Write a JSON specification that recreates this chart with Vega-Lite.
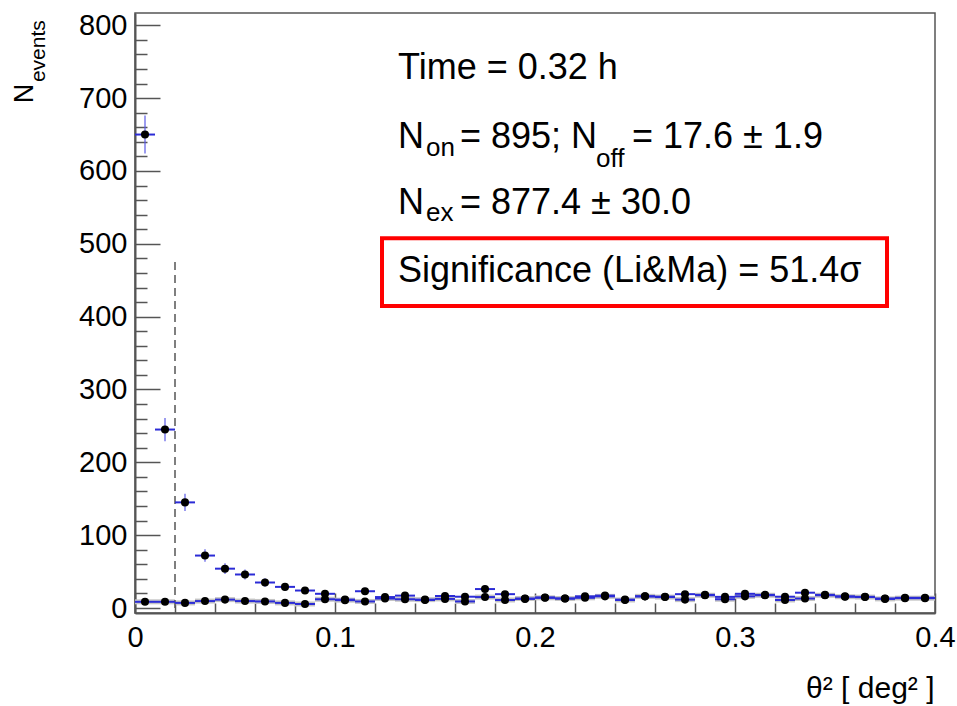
{
  "$schema": "https://vega.github.io/schema/vega-lite/v6.json",
  "width": 800,
  "height": 600,
  "autosize": {"type": "none"},
  "padding": {"left": 135, "top": 13, "right": 22, "bottom": 93},
  "background": "white",
  "config": {
    "view": {"stroke": "#555", "strokeWidth": 1.5},
    "font": "Liberation Sans"
  },
  "datasets": {
    "bins": [
      {"center": 0.005, "lo": 0.00, "hi": 0.01, "on": 650, "on_lo": 624, "on_hi": 676, "off": 8.5},
      {"center": 0.015, "lo": 0.01, "hi": 0.02, "on": 245, "on_lo": 229, "on_hi": 261, "off": 8.5},
      {"center": 0.025, "lo": 0.02, "hi": 0.03, "on": 145, "on_lo": 133, "on_hi": 157, "off": 7},
      {"center": 0.035, "lo": 0.03, "hi": 0.04, "on": 72, "on_lo": 63.5, "on_hi": 80.5, "off": 9.5},
      {"center": 0.045, "lo": 0.04, "hi": 0.05, "on": 54, "on_lo": 46.7, "on_hi": 61.3, "off": 11.5},
      {"center": 0.055, "lo": 0.05, "hi": 0.06, "on": 46, "on_lo": 39.2, "on_hi": 52.8, "off": 9.5},
      {"center": 0.065, "lo": 0.06, "hi": 0.07, "on": 35, "on_lo": 29.1, "on_hi": 40.9, "off": 9},
      {"center": 0.075, "lo": 0.07, "hi": 0.08, "on": 29, "on_lo": 23.6, "on_hi": 34.4, "off": 7},
      {"center": 0.085, "lo": 0.08, "hi": 0.09, "on": 24, "on_lo": 19.1, "on_hi": 28.9, "off": 5.5},
      {"center": 0.095, "lo": 0.09, "hi": 0.10, "on": 19.5, "on_lo": 15.1, "on_hi": 23.9, "off": 12},
      {"center": 0.105, "lo": 0.10, "hi": 0.11, "on": 11.5, "on_lo": 8.1, "on_hi": 14.9, "off": 10.8},
      {"center": 0.115, "lo": 0.11, "hi": 0.12, "on": 23, "on_lo": 18.2, "on_hi": 27.8, "off": 9},
      {"center": 0.125, "lo": 0.12, "hi": 0.13, "on": 15, "on_lo": 11.1, "on_hi": 18.9, "off": 13},
      {"center": 0.135, "lo": 0.13, "hi": 0.14, "on": 17, "on_lo": 12.9, "on_hi": 21.1, "off": 12},
      {"center": 0.145, "lo": 0.14, "hi": 0.15, "on": 11, "on_lo": 7.7, "on_hi": 14.3, "off": 11.5},
      {"center": 0.155, "lo": 0.15, "hi": 0.16, "on": 16.5, "on_lo": 12.4, "on_hi": 20.6, "off": 12.5},
      {"center": 0.165, "lo": 0.16, "hi": 0.17, "on": 15.5, "on_lo": 11.6, "on_hi": 19.4, "off": 9},
      {"center": 0.175, "lo": 0.17, "hi": 0.18, "on": 26, "on_lo": 20.9, "on_hi": 31.1, "off": 15},
      {"center": 0.185, "lo": 0.18, "hi": 0.19, "on": 19, "on_lo": 14.6, "on_hi": 23.4, "off": 11},
      {"center": 0.195, "lo": 0.19, "hi": 0.20, "on": 12.5, "on_lo": 9, "on_hi": 16, "off": 13},
      {"center": 0.205, "lo": 0.20, "hi": 0.21, "on": 14.5, "on_lo": 10.7, "on_hi": 18.3, "off": 14},
      {"center": 0.215, "lo": 0.21, "hi": 0.22, "on": 13, "on_lo": 9.4, "on_hi": 16.6, "off": 13},
      {"center": 0.225, "lo": 0.22, "hi": 0.23, "on": 16, "on_lo": 12, "on_hi": 20, "off": 14},
      {"center": 0.235, "lo": 0.23, "hi": 0.24, "on": 17, "on_lo": 12.9, "on_hi": 21.1, "off": 16},
      {"center": 0.245, "lo": 0.24, "hi": 0.25, "on": 11.5, "on_lo": 8.1, "on_hi": 14.9, "off": 11},
      {"center": 0.255, "lo": 0.25, "hi": 0.26, "on": 16, "on_lo": 12, "on_hi": 20, "off": 16},
      {"center": 0.265, "lo": 0.26, "hi": 0.27, "on": 15.5, "on_lo": 11.6, "on_hi": 19.4, "off": 15},
      {"center": 0.275, "lo": 0.27, "hi": 0.28, "on": 19, "on_lo": 14.6, "on_hi": 23.4, "off": 11.5},
      {"center": 0.285, "lo": 0.28, "hi": 0.29, "on": 18, "on_lo": 13.8, "on_hi": 22.2, "off": 17.5},
      {"center": 0.295, "lo": 0.29, "hi": 0.30, "on": 15.3, "on_lo": 11.4, "on_hi": 19.2, "off": 12},
      {"center": 0.305, "lo": 0.30, "hi": 0.31, "on": 19.5, "on_lo": 15.1, "on_hi": 23.9, "off": 16},
      {"center": 0.315, "lo": 0.31, "hi": 0.32, "on": 18, "on_lo": 13.8, "on_hi": 22.2, "off": 17.5},
      {"center": 0.325, "lo": 0.32, "hi": 0.33, "on": 15.5, "on_lo": 11.6, "on_hi": 19.4, "off": 11},
      {"center": 0.335, "lo": 0.33, "hi": 0.34, "on": 21, "on_lo": 16.4, "on_hi": 25.6, "off": 13},
      {"center": 0.345, "lo": 0.34, "hi": 0.35, "on": 18, "on_lo": 13.8, "on_hi": 22.2, "off": 17.5},
      {"center": 0.355, "lo": 0.35, "hi": 0.36, "on": 16, "on_lo": 12, "on_hi": 20, "off": 15.5},
      {"center": 0.365, "lo": 0.36, "hi": 0.37, "on": 15.3, "on_lo": 11.4, "on_hi": 19.2, "off": 15},
      {"center": 0.375, "lo": 0.37, "hi": 0.38, "on": 13, "on_lo": 9.4, "on_hi": 16.6, "off": 12.5},
      {"center": 0.385, "lo": 0.38, "hi": 0.39, "on": 14, "on_lo": 10.3, "on_hi": 17.7, "off": 13.5},
      {"center": 0.395, "lo": 0.39, "hi": 0.40, "on": 14, "on_lo": 10.3, "on_hi": 17.7, "off": 13.5}
    ],
    "cut": [{"theta2": 0.02, "bottom": 0, "top": 480}],
    "notes": [
      {"text": "Time = 0.32 h", "x": 0.1315, "y": 726},
      {"text": "N", "x": 0.1315, "y": 632},
      {"text": "= 895; N", "x": 0.1625, "y": 632},
      {"text": "= 17.6 ± 1.9", "x": 0.2485, "y": 632},
      {"text": "N", "x": 0.1315, "y": 541},
      {"text": "= 877.4 ± 30.0", "x": 0.1625, "y": 541},
      {"text": "Significance (Li&Ma) = 51.4σ", "x": 0.1315, "y": 447}
    ],
    "subs": [
      {"text": "on", "x": 0.1455, "y": 621},
      {"text": "off", "x": 0.2305, "y": 605},
      {"text": "ex", "x": 0.1455, "y": 531}
    ],
    "box": [{"x1": 0.1235, "x2": 0.376, "y1": 414.5, "y2": 507.6}],
    "ytitle_main": [{"text": "N", "x": -0.051, "y": 693}],
    "ytitle_sub": [{"text": "events", "x": -0.045, "y": 722}]
  },
  "layer": [
    {
      "data": {"name": "bins"},
      "mark": {"type": "bar", "color": "#c4c4c4"},
      "encoding": {
        "x": {
          "field": "lo", "type": "quantitative",
          "scale": {"domain": [0, 0.4], "nice": false, "zero": false},
          "axis": {
            "values": [0, 0.1, 0.2, 0.3, 0.4],
            "format": "~g",
            "tickSize": -20, "tickWidth": 1.5, "tickColor": "#555",
            "domainColor": "#555", "domainWidth": 2,
            "labelFontSize": 29, "labelColor": "black", "labelPadding": 30,
            "labelFont": "Liberation Sans",
            "labelFlush": false, "labelOverlap": false,
            "grid": false,
            "title": "θ² [ deg² ]",
            "titleFont": "Liberation Sans", "titleFontSize": 30, "titleFontWeight": "normal",
            "titleColor": "black",
            "titleAnchor": "end", "titleAlign": "right", "titleBaseline": "alphabetic",
            "titleX": 799, "titleY": 84
          }
        },
        "x2": {"field": "hi"},
        "y": {
          "field": "off", "type": "quantitative",
          "scale": {"domain": [0, 810], "nice": false},
          "axis": {
            "values": [0, 100, 200, 300, 400, 500, 600, 700, 800],
            "format": "d",
            "tickSize": -25, "tickWidth": 1.5, "tickColor": "#555",
            "domainColor": "#555", "domainWidth": 2,
            "labelFontSize": 29, "labelColor": "black", "labelPadding": 33,
            "labelFont": "Liberation Sans",
            "labelFlush": false, "labelOverlap": false,
            "grid": false,
            "title": null
          }
        }
      }
    },
    {
      "data": {"name": "cut"},
      "mark": {"type": "rule", "color": "#555", "strokeDash": [8, 5], "strokeWidth": 1.5},
      "encoding": {
        "x": {"field": "theta2", "type": "quantitative", "axis": null},
        "y": {"field": "bottom", "type": "quantitative", "axis": null},
        "y2": {"field": "top"}
      }
    },
    {
      "data": {"name": "bins"},
      "mark": {"type": "rule", "color": "#2b2bd6", "strokeWidth": 2},
      "encoding": {
        "x": {
          "field": "lo", "type": "quantitative",
          "axis": {
            "orient": "bottom",
            "values": [0.02, 0.04, 0.06, 0.08, 0.12, 0.14, 0.16, 0.18, 0.22, 0.24, 0.26, 0.28, 0.32, 0.34, 0.36, 0.38],
            "tickSize": -10, "tickWidth": 1.5, "tickColor": "#555",
            "domain": false, "labels": false, "grid": false, "title": null
          }
        },
        "x2": {"field": "hi"},
        "y": {
          "field": "off", "type": "quantitative",
          "axis": {
            "orient": "left",
            "values": [20, 40, 60, 80, 120, 140, 160, 180, 220, 240, 260, 280, 320, 340, 360, 380, 420, 440, 460, 480, 520, 540, 560, 580, 620, 640, 660, 680, 720, 740, 760, 780],
            "tickSize": -12, "tickWidth": 1.5, "tickColor": "#555",
            "domain": false, "labels": false, "grid": false, "title": null
          }
        }
      }
    },
    {
      "data": {"name": "bins"},
      "mark": {"type": "rule", "color": "#2b2bd6", "strokeWidth": 2},
      "encoding": {
        "x": {"field": "lo", "type": "quantitative", "axis": null},
        "x2": {"field": "hi"},
        "y": {"field": "on", "type": "quantitative", "axis": null}
      }
    },
    {
      "data": {"name": "bins"},
      "mark": {"type": "rule", "color": "#5a5ae6", "strokeWidth": 1.2},
      "encoding": {
        "x": {"field": "center", "type": "quantitative", "axis": null},
        "y": {"field": "on_lo", "type": "quantitative", "axis": null},
        "y2": {"field": "on_hi"}
      }
    },
    {
      "data": {"name": "bins"},
      "mark": {"type": "point", "filled": true, "color": "black", "opacity": 1, "size": 65},
      "encoding": {
        "x": {"field": "center", "type": "quantitative", "axis": null},
        "y": {"field": "off", "type": "quantitative", "axis": null}
      }
    },
    {
      "data": {"name": "bins"},
      "mark": {"type": "point", "filled": true, "color": "black", "opacity": 1, "size": 65},
      "encoding": {
        "x": {"field": "center", "type": "quantitative", "axis": null},
        "y": {"field": "on", "type": "quantitative", "axis": null}
      }
    },
    {
      "data": {"name": "box"},
      "mark": {"type": "rect", "fillOpacity": 0, "fill": "white", "stroke": "#ff0000", "strokeWidth": 4},
      "encoding": {
        "x": {"field": "x1", "type": "quantitative", "axis": null},
        "x2": {"field": "x2"},
        "y": {"field": "y1", "type": "quantitative", "axis": null},
        "y2": {"field": "y2"}
      }
    },
    {
      "data": {"name": "notes"},
      "mark": {"type": "text", "font": "Liberation Sans", "fontSize": 36, "align": "left", "baseline": "alphabetic", "color": "black"},
      "encoding": {
        "x": {"field": "x", "type": "quantitative", "axis": null},
        "y": {"field": "y", "type": "quantitative", "axis": null},
        "text": {"field": "text"}
      }
    },
    {
      "data": {"name": "subs"},
      "mark": {"type": "text", "font": "Liberation Sans", "fontSize": 26, "align": "left", "baseline": "alphabetic", "color": "black"},
      "encoding": {
        "x": {"field": "x", "type": "quantitative", "axis": null},
        "y": {"field": "y", "type": "quantitative", "axis": null},
        "text": {"field": "text"}
      }
    },
    {
      "data": {"name": "ytitle_main"},
      "mark": {"type": "text", "font": "Liberation Sans", "fontSize": 27, "angle": 270, "align": "left", "baseline": "alphabetic", "color": "black"},
      "encoding": {
        "x": {"field": "x", "type": "quantitative", "axis": null},
        "y": {"field": "y", "type": "quantitative", "axis": null},
        "text": {"field": "text"}
      }
    },
    {
      "data": {"name": "ytitle_sub"},
      "mark": {"type": "text", "font": "Liberation Sans", "fontSize": 21, "angle": 270, "align": "left", "baseline": "alphabetic", "color": "black"},
      "encoding": {
        "x": {"field": "x", "type": "quantitative", "axis": null},
        "y": {"field": "y", "type": "quantitative", "axis": null},
        "text": {"field": "text"}
      }
    }
  ],
  "resolve": {"axis": {"x": "independent", "y": "independent"}}
}
